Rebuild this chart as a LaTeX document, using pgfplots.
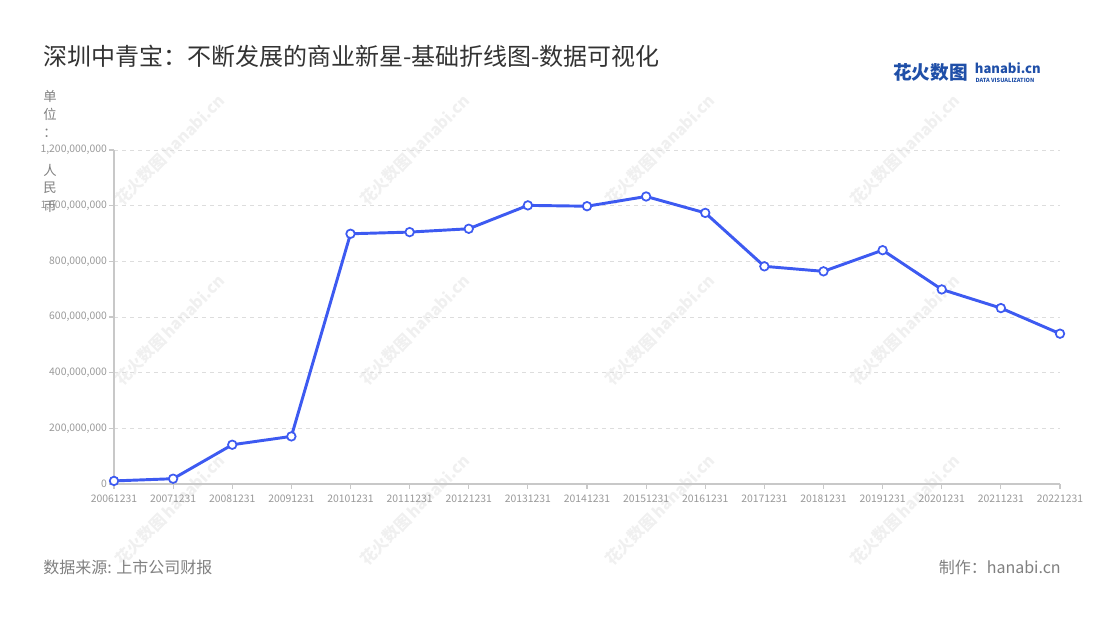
\documentclass[border=0pt]{standalone}
\usepackage{fontspec}
\setmainfont{Noto Sans CJK SC}
\usepackage{pgfplots}
\pgfplotsset{compat=1.18}

\definecolor{lineblue}{HTML}{3D5AF1}
\definecolor{titlegray}{HTML}{333333}
\definecolor{tickgray}{HTML}{999999}
\definecolor{axisgray}{HTML}{C8C8C8}
\definecolor{gridgray}{HTML}{DDDDDD}
\definecolor{footgray}{HTML}{808080}
\definecolor{logoblue}{HTML}{1F4FA8}
\definecolor{wmgray}{HTML}{F0F0F0}

\begin{document}
\begin{tikzpicture}
% page frame, 1100 x 620 px at 0.75pt per px
\path[use as bounding box] (0,0) rectangle (825pt,465pt);

% watermarks
\foreach \wx in {170,415,660,905}{
  \foreach \wy in {150,330,510}{
    \node[rotate=45, text=wmgray, font=\bfseries\fontsize{12}{12}\selectfont, inner sep=0]
      at (\wx*0.75pt, {(620-\wy)*0.75pt}) {花火数图\,hanabi.cn};
  }
}

\begin{axis}[
    at={(85.5pt,102pt)}, anchor=south west,
    scale only axis,
    width=709.5pt, height=250.5pt,
    xmin=0, xmax=16,
    ymin=0, ymax=1200000000,
    axis x line*=bottom,
    axis y line*=left,
    axis line style={axisgray, line width=0.9pt},
    xtick={0,...,16},
    xticklabels={20061231,20071231,20081231,20091231,20101231,20111231,20121231,20131231,20141231,20151231,20161231,20171231,20181231,20191231,20201231,20211231,20221231},
    ytick={0,200000000,400000000,600000000,800000000,1000000000,1200000000},
    scaled y ticks=false,
    yticklabel style={xshift=2pt, /pgf/number format/.cd, fixed, precision=0, 1000 sep={,}},
    /pgf/number format/assume math mode=true,
    tick label style={text=tickgray, font=\fontsize{7.8}{9}\selectfont},
    tick align=outside,
    major tick length=3.75pt,
    tick style={axisgray, line width=0.8pt},
    ymajorgrids,
    major grid style={gridgray, dashed, line width=0.6pt},
    xticklabel style={yshift=-1pt},
    clip=false,
]
\addplot[lineblue, line width=2.2pt, mark=*, mark size=3.2pt,
    mark options={fill=white, draw=lineblue, line width=1.3pt}]
coordinates {
(0,11000000) (1,19000000) (2,141000000) (3,171000000)
(4,899000000) (5,905000000) (6,917000000) (7,1001000000)
(8,998000000) (9,1033000000) (10,974000000) (11,782000000)
(12,764000000) (13,840000000) (14,699000000) (15,632000000)
(16,540000000)
};
\end{axis}

% title
\node[anchor=west, text=titlegray, font=\fontsize{18}{20}\selectfont, inner sep=0]
  at (32.25pt,423pt) {深圳中青宝：不断发展的商业新星-基础折线图-数据可视化};

% unit label, stacked
\foreach \ch/\cy in {单/96,位/114,：/133,人/170,民/188,币/207}{
  \node[text=footgray, font=\fontsize{10}{10}\selectfont, inner sep=0]
    at (37.5pt, {(620-\cy)*0.75pt}) {\ch};
}

% logo
\node[anchor=west, text=logoblue, font=\bfseries\fontsize{14}{14}\selectfont, inner sep=0]
  at (669.75pt,411pt) {花火数图};
\node[anchor=west, text=logoblue, font=\bfseries\fontsize{9.8}{11}\selectfont, inner sep=0]
  at (731pt,413.5pt) {hanabi.cn};
\node[anchor=west, text=logoblue, font=\bfseries\fontsize{4.2}{5}\selectfont, inner sep=0]
  at (731.5pt,405pt) {DATA VISUALIZATION};

% footer
\node[anchor=west, text=footgray, font=\fontsize{12}{13}\selectfont, inner sep=0]
  at (32.25pt,39.75pt) {数据来源: 上市公司财报};
\node[anchor=east, text=footgray, font=\fontsize{12}{13}\selectfont, inner sep=0]
  at (795.75pt,39.75pt) {制作：hanabi.cn};
\end{tikzpicture}
\end{document}
